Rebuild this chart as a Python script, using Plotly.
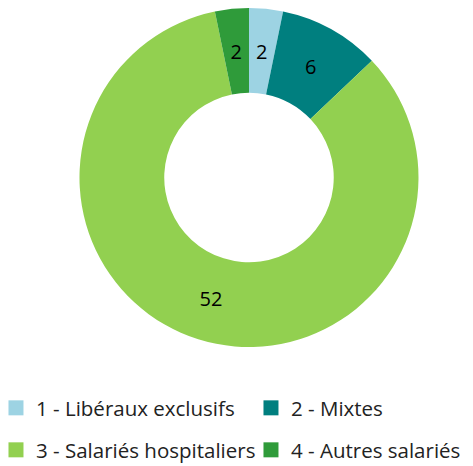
import plotly.graph_objects as go

labels = ["1 - Libéraux exclusifs", "2 - Mixtes", "3 - Salariés hospitaliers", "4 - Autres salariés"]
values = [2, 6, 52, 2]
colors = ["#9dd3e3", "#007f7f", "#92d050", "#2f9b3a"]

FONT = "Open Sans"

# which labels are drawn by which ring (large slice on the main ring, small ones mid-ring)
big = [v >= 20 for v in values]

fig = go.Figure()
# donut ring
fig.add_trace(go.Pie(
    labels=labels, values=values, sort=False, direction="clockwise", rotation=0,
    hole=0.5, marker=dict(colors=colors, line=dict(width=0)),
    texttemplate=["%{value}" if b else "" for b in big],
    textposition="inside", insidetextorientation="horizontal",
    textfont=dict(family=FONT, size=20, color="black"),
    showlegend=False, hoverinfo="label+value",
    domain=dict(x=[0.1501, 0.8689], y=[0.2725, 1.0]),
))
# value labels for the narrow slices, placed mid-ring by a transparent concentric ring
fig.add_trace(go.Pie(
    labels=labels, values=values, sort=False, direction="clockwise", rotation=0,
    hole=0.9, marker=dict(colors=["rgba(0,0,0,0)"] * len(values), line=dict(width=0)),
    texttemplate=["" if b else "%{value}" for b in big],
    textposition="inside", insidetextorientation="horizontal",
    textfont=dict(family=FONT, size=20, color="black"),
    showlegend=False, hoverinfo="skip",
    domain=dict(x=[0.2268, 0.7922], y=[0.3494, 0.9232]),
))

legend_pos = [(-0.0254, 0.1416), (0.5137, 0.1416), (-0.0254, 0.0515), (0.5137, 0.0515)]
layout_legends = {}
for i, (lab, col) in enumerate(zip(labels, colors)):
    key = "legend" if i == 0 else f"legend{i+1}"
    fig.add_trace(go.Scatter(
        x=[None], y=[None], mode="markers", name=lab,
        marker=dict(symbol="square", size=15, color=col),
        legend=key, showlegend=True,
    ))
    lx, ly = legend_pos[i]
    layout_legends[key] = dict(
        x=lx, y=ly, xanchor="left", yanchor="middle",
        orientation="h", itemwidth=30, bgcolor="rgba(0,0,0,0)",
        font=dict(family=FONT, size=20.5, color="#222222"),
    )

fig.update_layout(
    width=473, height=466,
    margin=dict(l=0, r=0, t=0, b=0, autoexpand=False),
    paper_bgcolor="white", plot_bgcolor="white",
    xaxis=dict(visible=False), yaxis=dict(visible=False),
    uniformtext=dict(minsize=20, mode="show"),
    **layout_legends,
)

fig.write_html("out.html")
